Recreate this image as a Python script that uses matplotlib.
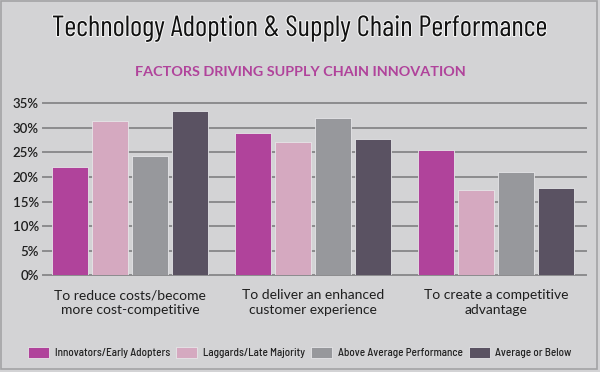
import matplotlib
matplotlib.use("Agg")
import matplotlib.pyplot as plt
import numpy as np
from matplotlib.patches import Rectangle
import matplotlib.patheffects as pe

categories = ["To reduce costs/become\nmore cost-competitive",
              "To deliver an enhanced\ncustomer experience",
              "To create a competitive\nadvantage"]
series_names = ["Innovators/Early Adopters", "Laggards/Late Majority",
                "Above Average Performance", "Average or Below"]
innovators = [22.0, 29.0, 25.5]
laggards = [31.3, 27.2, 17.4]
above_avg = [24.3, 32.0, 21.0]
avg_below = [33.5, 27.7, 17.7]
yticks = [0, 5, 10, 15, 20, 25, 30, 35]
ytick_labels = ["0%", "5%", "10%", "15%", "20%", "25%", "30%", "35%"]

colors = ["#b0439b", "#d5a9c0", "#97989c", "#5a5262"]
bg = "#d3d3d5"

title_font = ["Saira Extra Condensed", "Barlow Condensed", "DejaVu Sans"]
body = ["Lato", "DejaVu Sans"]
legend_font = ["Barlow Semi Condensed", "Lato", "DejaVu Sans"]

fig = plt.figure(figsize=(6, 3.72), dpi=100, facecolor=bg)
fig.patches.append(Rectangle((0.002, 0.008), 0.993, 0.989, transform=fig.transFigure,
                             fill=False, edgecolor="#a3a3a5", linewidth=1.2))

ax = fig.add_axes([0.0717, 1 - 275.3 / 372, 0.976 - 0.0717, (275.3 - 103.3) / 372])
ax.set_facecolor(bg)

x = np.arange(len(categories))
step = 0.219
width = 0.197
all_series = [innovators, laggards, above_avg, avg_below]
for i, (vals, c, n) in enumerate(zip(all_series, colors, series_names)):
    ax.bar(x + (i - 1.5) * step, vals, width=width, color=c, label=n,
           edgecolor="#e6e6e8", linewidth=0.6, zorder=3)

ax.set_ylim(0, 35)
ax.set_xlim(-0.477, 2.489)
ax.set_yticks(yticks)
ax.set_yticklabels(ytick_labels, fontsize=9.5, color="#1e1e1e", family=body,
                   fontweight="semibold")
ax.yaxis.grid(True, color="#8c8c8e", linewidth=1.4, zorder=1)
ax.set_axisbelow(True)
ax.tick_params(axis="y", length=0, pad=3)
ax.tick_params(axis="x", length=0, pad=10)
ax.set_xticks(x)
ax.set_xticklabels(categories, fontsize=10, color="#1e1e1e", family=body, linespacing=1.3)
for s in ax.spines.values():
    s.set_visible(False)
for t in ax.yaxis.get_gridlines():
    t.set_clip_on(False)

fig.text(0.5, 1 - 29 / 372, "Technology Adoption & Supply Chain Performance",
         ha="center", va="center", fontsize=21, fontweight="normal",
         family=title_font, color="#111111",
         path_effects=[pe.withStroke(linewidth=1.5, foreground="#f4f4f4")])
fig.text(0.5, 1 - 72 / 372, "FACTORS DRIVING SUPPLY CHAIN INNOVATION",
         ha="center", va="center", fontsize=10.4, fontweight="bold", family=body,
         color="#b0439b")

fig.legend(loc="center", bbox_to_anchor=(0.5, 1 - 352.7 / 372), ncol=4,
           frameon=False, prop={"family": legend_font, "size": 8, "weight": "medium"},
           handlelength=1.9, handleheight=1.15, handletextpad=0.5,
           columnspacing=0.55, labelcolor="#222222")

fig.savefig("out.png", dpi=100, facecolor=bg)
